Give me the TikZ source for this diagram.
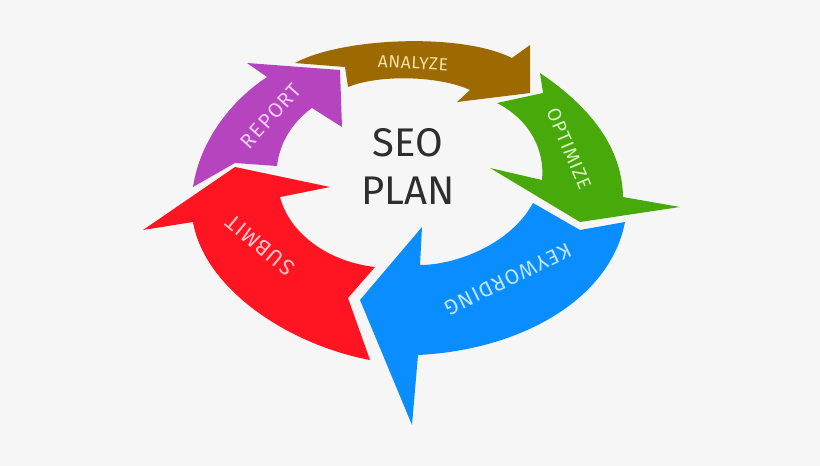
\documentclass[tikz,border=0pt]{standalone}
\usepackage{fontspec}
\newfontfamily\thinfont{Fira Sans}
\definecolor{bgc}{HTML}{F6F6F6}
\definecolor{brownc}{HTML}{9C6A00}
\definecolor{purplec}{HTML}{B544BE}
\definecolor{redc}{HTML}{FF1422}
\definecolor{bluec}{HTML}{0A8EFF}
\definecolor{greenc}{HTML}{47A90A}
\definecolor{brownt}{HTML}{F2DFA8}
\definecolor{purplet}{HTML}{F5CCF7}
\definecolor{redt}{HTML}{FFC4CA}
\definecolor{bluet}{HTML}{C5E5FF}
\definecolor{greent}{HTML}{D8F5C4}
\definecolor{titlec}{HTML}{2E2E2E}
\newcommand{\lblfont}[2]{\thinfont\fontsize{#1}{#1}\selectfont\addfontfeatures{LetterSpace=#2}}
\tikzset{
  label text/.style={inner sep=0pt},
}
\begin{document}
\begin{tikzpicture}[x=1pt,y=-1pt]
\fill[bgc] (0,0) rectangle (820,466);
\useasboundingbox (0,0) rectangle (820,466);
% ANALYZE (brown)
\fill[brownc] (295,63) -- (345,67) -- (348,87) .. controls (380,74) and (440,76) .. (470,90) -- (457,102) -- (530,93) -- (530,45) -- (512,58) .. controls (460,32) and (340,38) .. (295,63) -- cycle;
% REPORT (purple)
\fill[purplec] (267,77) -- (247,63) -- (340,70) -- (342,127) -- (312,108) .. controls (295,120) and (280,140) .. (277,166) -- (235,163) -- (193,187) .. controls (200,140) and (232,100) .. (267,77) -- cycle;
% SUBMIT (red)
\fill[redc] (143,230) -- (235,167) -- (330,187) -- (280,197) .. controls (290,235) and (330,262) .. (375,267) -- (348,298) -- (370,360) .. controls (290,345) and (205,290) .. (193,222) -- cycle;
% KEYWORDING (blue)
\fill[bluec] (360,300) -- (422,227) -- (420,265) .. controls (455,265) and (510,245) .. (533,203) -- (580,230) -- (625,222) .. controls (610,300) and (520,350) .. (418,355) -- (412,425) -- cycle;
% OPTIMIZE (green)
\fill[greenc] (540,73) -- (543,93) -- (497,103) .. controls (530,120) and (545,150) .. (542,180) -- (490,168) -- (580,222) -- (680,207) -- (623,197) .. controls (622,140) and (580,100) .. (540,73) -- cycle;
% labels
\node[label text, text=brownt, rotate=-3, font=\lblfont{17.5}{3}] (analyze) at (413,63) {ANALYZE};
\node[label text, text=purplet, rotate=48, font=\lblfont{20.5}{7}] (report) at (271,116) {REPORT};
\node[label text, text=greent, rotate=-67, font=\lblfont{19}{5}] (optimize) at (569,149) {OPTIMIZE};
\node[label text, text=bluet, rotate=206, font=\lblfont{21}{6}] (keywording) at (508,279) {KEYWORDING};
\node[label text, text=redt, rotate=140.5, font=\lblfont{22}{6}] (submit) at (260,245) {SUBMIT};
\node[font=\thinfont\fontsize{40}{48}\selectfont, text=titlec, align=center, inner sep=0pt] (title) at (408,166) {SEO\\PLAN};
\end{tikzpicture}
\end{document}
